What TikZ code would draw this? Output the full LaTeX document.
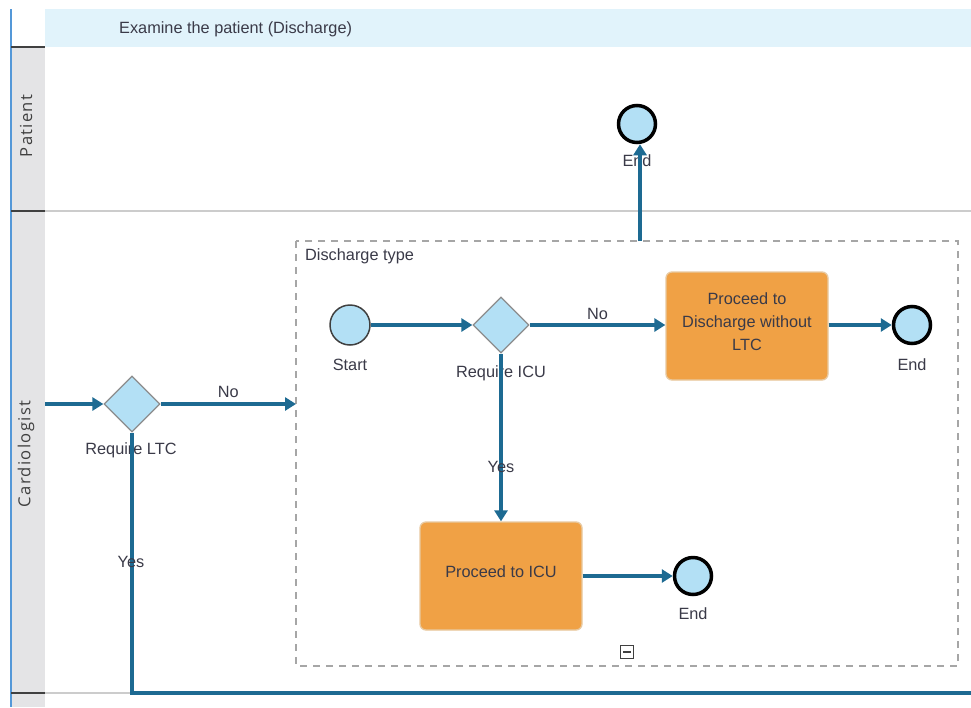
\documentclass[tikz,border=0pt]{standalone}
\usepackage{fontspec}
\setmainfont{Liberation Sans}
\newfontfamily\lanefont[LetterSpace=8]{Open Sans}
\usetikzlibrary{arrows.meta,shapes.geometric}
\definecolor{flow}{HTML}{1D6A92}
\definecolor{evfill}{HTML}{B3E0F5}
\definecolor{taskfill}{HTML}{F0A145}
\definecolor{taskedge}{HTML}{E8C9A0}
\definecolor{headfill}{HTML}{E1F3FB}
\definecolor{lanefill}{HTML}{E4E4E6}
\definecolor{txt}{HTML}{3A3A48}
\tikzset{
  flowline/.style={draw=flow, line width=3.2pt},
  flowarrow/.style={flowline, -{Triangle[length=11pt,width=13pt]}},
  startev/.style={circle, draw=black!75, line width=1.5pt, fill=evfill, minimum size=40pt, inner sep=0pt},
  endev/.style={circle, draw=black, line width=3.5pt, fill=evfill, minimum size=37pt, inner sep=0pt},
  gateway/.style={diamond, draw=black!45, line width=1.3pt, fill=evfill, minimum width=56pt, minimum height=56pt, inner sep=0pt},
  task/.style={rectangle, rounded corners=6pt, draw=taskedge, line width=1.3pt, fill=taskfill, minimum width=162pt, minimum height=108pt, align=center, text=txt, font=\fontsize{16.3}{23}\selectfont},
  lbl/.style={text=txt, font=\fontsize{16.3}{19}\selectfont, inner sep=0pt},
  lanelbl/.style={text=black!75, font=\lanefont\fontsize{16.6}{18}\selectfont, rotate=90, inner sep=0pt},
}
% lift a task caption without changing the space it takes
\newcommand{\liftcap}[2]{\raisebox{#1}[\height][\depth]{#2}}
\begin{document}
\begin{tikzpicture}[x=1pt,y=-1pt]
\useasboundingbox (0,0) rectangle (971,707);
\fill[white] (0,0) rectangle (971,707);
% pool header and lane label column
\fill[headfill] (45,9) rectangle (971,47);
\fill[lanefill] (11,47) rectangle (45,707);
\draw[draw=cyan!60!blue!70, line width=1.4pt] (11,9) -- (11,707);
\node[lbl, anchor=west] (title) at (119,29) {Examine the patient (Discharge)};
% lane separators
\draw[black!20, line width=1.8pt] (45,211) -- (971,211);
\draw[black!20, line width=1.8pt] (45,693) -- (132,693);
\draw[black!75, line width=2.8pt] (11,47) -- (45,47);
\draw[black!75, line width=2.8pt] (11,211) -- (45,211);
\draw[black!75, line width=2.8pt] (11,693) -- (45,693);
\node[lanelbl] (lanep) at (26,126) {Patient};
\node[lanelbl] (lanec) at (26,454) {Cardiologist};
% collapsed sub-process frame
\draw[black!35, line width=2.2pt, dash pattern=on 7pt off 6pt] (296,241) rectangle (958,666);
\node[lbl, anchor=west] (subtitle) at (305,256) {Discharge type};
\node[draw=black!75, line width=1.5pt, minimum size=13pt, inner sep=0pt] (collapse) at (627,652) {};
\draw[black!75, line width=2.2pt] ([xshift=-4pt]collapse.center) -- ([xshift=4pt]collapse.center);
% events, gateways, tasks
\node[endev] (endtop) at (637,124) {};
\node[lbl] (endtopl) at (637,161) {End};
\node[gateway] (ltc) at (132,404) {};
\node[lbl] (ltcl) at (131,450) {Require LTC};
\node[startev] (start) at (350,325) {};
\node[lbl] (startl) at (350,365) {Start};
\node[gateway] (icu) at (501,325) {};
\node[lbl] (icul) at (501,373) {Require ICU};
\node[task] (disc) at (747,326) {\liftcap{3pt}{\begin{tabular}{@{}c@{}}Proceed to\\Discharge without\\LTC\end{tabular}}};
\node[endev] (end1) at (912,325) {};
\node[lbl] (end1l) at (912,365) {End};
\node[task] (toicu) at (501,576) {\liftcap{4.5pt}{Proceed to ICU}};
\node[endev] (end2) at (693,576) {};
\node[lbl] (end2l) at (693,614) {End};
% connector end points
\coordinate (inflow) at (45,404);
\coordinate (subin) at (296,404);
\coordinate (subout) at (640,241);
\coordinate (yescorner) at (132,693);
\coordinate (yesout) at (971,693);
% sequence flows
\draw[flowarrow] (inflow) -- (ltc.west);
\draw[flowarrow] (ltc.east) -- node[lbl, above=5pt] (no1) {No} (subin);
\draw[flowline] (ltc.south) -- (yescorner) -- (yesout);
\node[lbl] (yes1) at (131,562) {Yes};
\draw[flowarrow] (subout) -- (endtop.south -| subout);
\draw[flowarrow] (start.east) -- (icu.west);
\draw[flowarrow] (icu.east) -- node[lbl, above=4pt, pos=0.5] (no2) {No} (icu.east -| disc.west);
\draw[flowarrow] (icu.south) -- (toicu.north);
\node[lbl] (yes2) at (501,467) {Yes};
\draw[flowarrow] (disc.east |- end1.west) -- (end1.west);
\draw[flowarrow] (toicu.east) -- (end2.west);
\end{tikzpicture}
\end{document}
